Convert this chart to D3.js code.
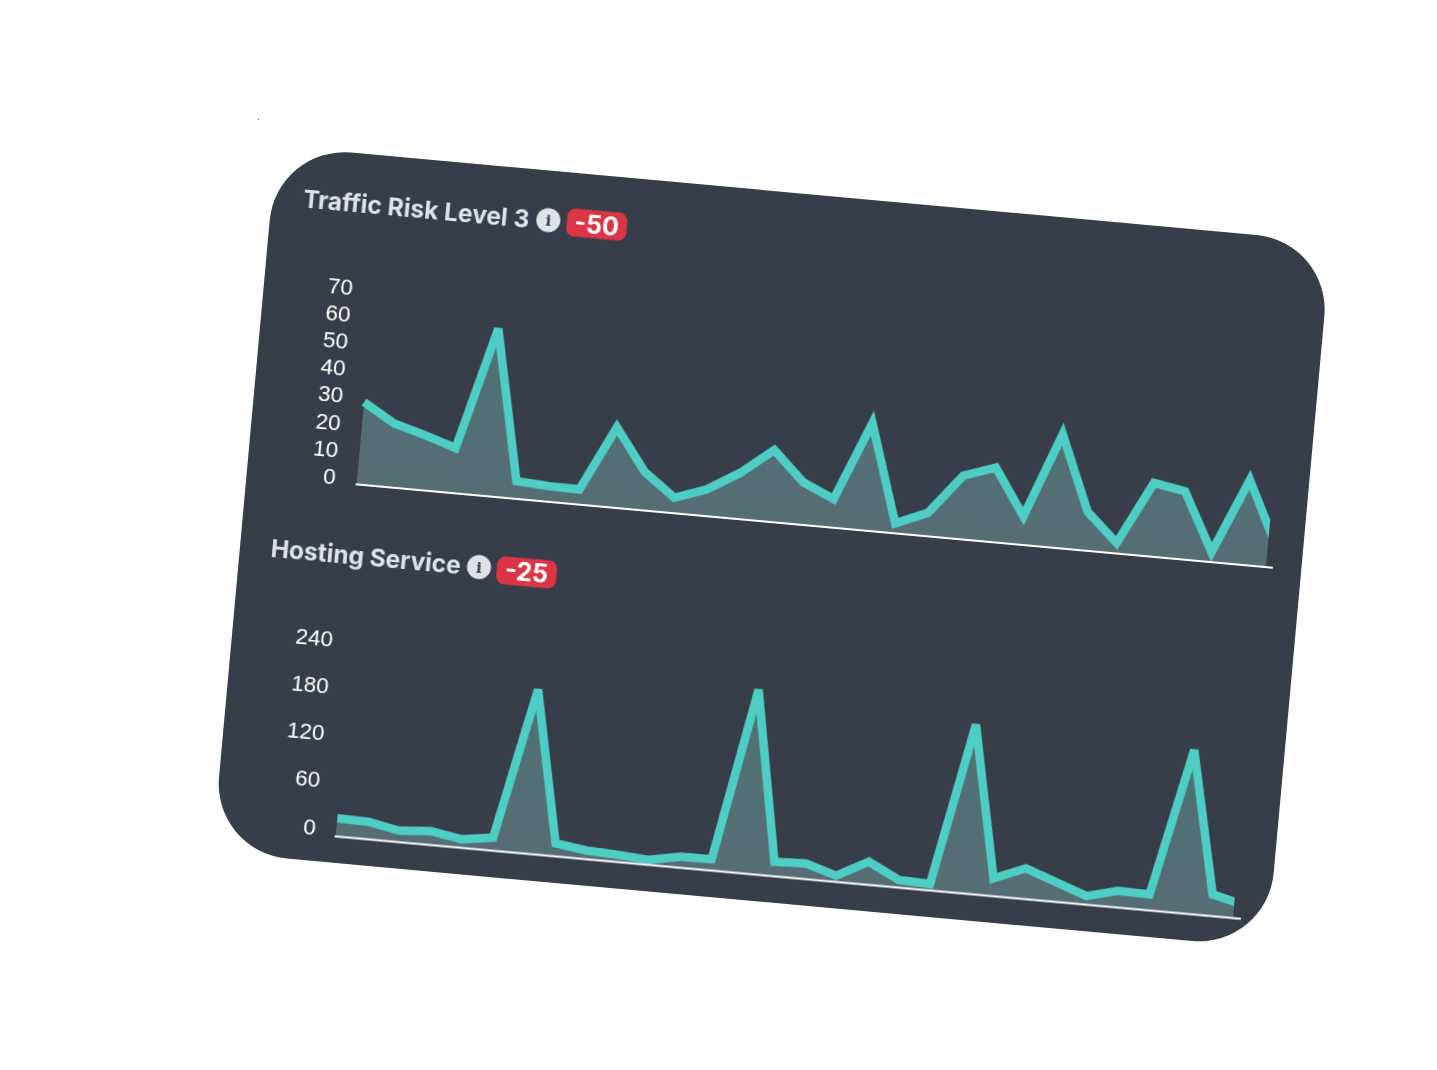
<!DOCTYPE html>
<html>
<head>
<meta charset="utf-8">
<script src="https://d3js.org/d3.v7.min.js"></script>
<style>
html, body { margin: 0; padding: 0; background: white; }
svg { display: block; }
.title { font-family: Inter, sans-serif; font-weight: 700; fill: #dee2e6; }
.badge-text { font-family: Inter, sans-serif; font-weight: 700; fill: white; text-anchor: middle; }
.info-text { font-family: "DejaVu Serif", serif; font-weight: 700; fill: #373e49; text-anchor: middle; }
.tick text { font-family: "Liberation Sans", Arial, sans-serif; font-size: 22.5px; fill: white; }
.soft { filter: blur(0.35px); }
</style>
</head>
<body>
<svg width="1437" height="1070"></svg>
<script>
// one label per sample, both charts have 30 of them
const samples = d3.range(1, 31);

const trafficValues = [30.5, 23.7, 20.4, 16.7, 62, 6.6, 5.8, 5.6, 29.7, 14.2,
  5.7, 9.9, 17.1, 26.6, 15.7, 10.6, 39.8, 3.7, 8.7, 23.5,
  27.6, 10.6, 42.1, 14.4, 3.9, 27.2, 25.2, 3.7, 31.5, 8.3];
const trafficTicks = [0, 10, 20, 30, 40, 50, 60, 70];

const hostingValues = [23.1, 22.3, 14.5, 17.6, 10.8, 16.5, 209, 16.6, 11, 9.3,
  6.3, 14, 14.6, 234, 18.5, 20, 7.9, 29.4, 9.8, 8.2,
  215, 22.6, 39.1, 25.1, 11, 21.3, 20.3, 208, 27.7, 18];
const hostingTicks = [0, 60, 120, 180, 240];

const svg = d3.select("svg");

// stray speck in the source image
svg.append("rect").attr("x", 258).attr("y", 119).attr("width", 1).attr("height", 1).attr("fill", "#666");

const card = svg.append("g").attr("transform", "translate(274,145.5) rotate(5.2)");

card.append("rect")
  .attr("x", 2.5)
  .attr("width", 1059).attr("height", 709)
  .attr("rx", 75).attr("ry", 75)
  .attr("fill", "#373e49");

const defs = svg.append("defs");

function drawChart(id, cfg) {
  const x = d3.scalePoint().domain(samples).range([cfg.left, cfg.right]);
  const y = d3.scaleLinear().domain(cfg.domain).range([cfg.base, cfg.top]);

  defs.append("clipPath").attr("id", "clip-" + id)
    .append("rect")
    .attr("x", cfg.left - 10).attr("y", cfg.base - 260)
    .attr("width", cfg.clipRight - cfg.left + 10).attr("height", 270);

  const grad = defs.append("linearGradient").attr("id", "fill-" + id)
    .attr("gradientUnits", "userSpaceOnUse")
    .attr("x1", 0).attr("x2", 0).attr("y1", cfg.base - 170).attr("y2", cfg.base);
  grad.append("stop").attr("offset", 0).attr("stop-color", "#4d7277");
  grad.append("stop").attr("offset", 1).attr("stop-color", "#576d74");

  const g = card.append("g").attr("class", "soft");
  const plot = g.append("g").attr("clip-path", "url(#clip-" + id + ")");

  plot.append("path")
    .datum(cfg.values)
    .attr("fill", "url(#fill-" + id + ")")
    .attr("d", d3.area().x((d, i) => x(samples[i])).y0(cfg.base).y1(d => y(d)));

  g.append("line")
    .attr("x1", cfg.left - 1).attr("x2", cfg.right - 1)
    .attr("y1", cfg.base).attr("y2", cfg.base)
    .attr("stroke", "white").attr("stroke-width", 2);

  plot.append("path")
    .datum(cfg.values)
    .attr("fill", "none")
    .attr("stroke", "#4ecdc4")
    .attr("stroke-width", 8.5)
    .attr("d", d3.line().x((d, i) => x(samples[i])).y(d => y(d)));

  const axis = g.append("g")
    .attr("transform", "translate(" + cfg.tickX + ",0)")
    .call(d3.axisLeft(y).tickValues(cfg.ticks).tickSize(0).tickPadding(0));
  axis.select(".domain").remove();
  // tick labels sit a little above their value in the source
  axis.selectAll("text").attr("transform", "translate(0," + cfg.tickShift + ")");

  // header row
  g.append("text")
    .attr("class", "title")
    .attr("x", cfg.titleX).attr("y", cfg.titleY)
    .attr("font-size", 24.5)
    .attr("textLength", cfg.titleW).attr("lengthAdjust", "spacing")
    .text(cfg.title);

  g.append("circle")
    .attr("cx", cfg.infoX).attr("cy", cfg.rowY).attr("r", 12)
    .attr("fill", "#dee2e6");
  g.append("text")
    .attr("class", "info-text")
    .attr("x", cfg.infoX).attr("y", cfg.rowY + 5.5)
    .attr("font-size", 15)
    .text("i");

  g.append("rect")
    .attr("x", cfg.badgeX - 30).attr("y", cfg.badgeY - 14)
    .attr("width", 60).attr("height", 28)
    .attr("rx", 8)
    .attr("fill", "#dc3545");
  g.append("text")
    .attr("class", "badge-text")
    .attr("x", cfg.badgeX).attr("y", cfg.badgeY + 9)
    .attr("font-size", 25)
    .text(cfg.badge);
}

drawChart("traffic", {
  values: trafficValues, ticks: trafficTicks, domain: [0, 70],
  left: 113, right: 1034, clipRight: 1026,
  base: 330, top: 140.4, tickX: 91.5, tickShift: -6,
  title: "Traffic Risk Level 3", titleX: 34, titleY: 58.5, titleW: 227,
  infoX: 280, badgeX: 328.6, rowY: 49.6, badgeY: 49.6, badge: "-50"
});

drawChart("hosting", {
  values: hostingValues, ticks: hostingTicks, domain: [0, 240],
  left: 124, right: 1034, clipRight: 1025,
  base: 682.5, top: 493.4, tickX: 103.5, tickShift: -7.5,
  title: "Hosting Service", titleX: 33.5, titleY: 409.7, titleW: 190.5,
  infoX: 242.4, badgeX: 290.3, rowY: 401.3, badgeY: 402.3, badge: "-25"
});
</script>
</body>
</html>
